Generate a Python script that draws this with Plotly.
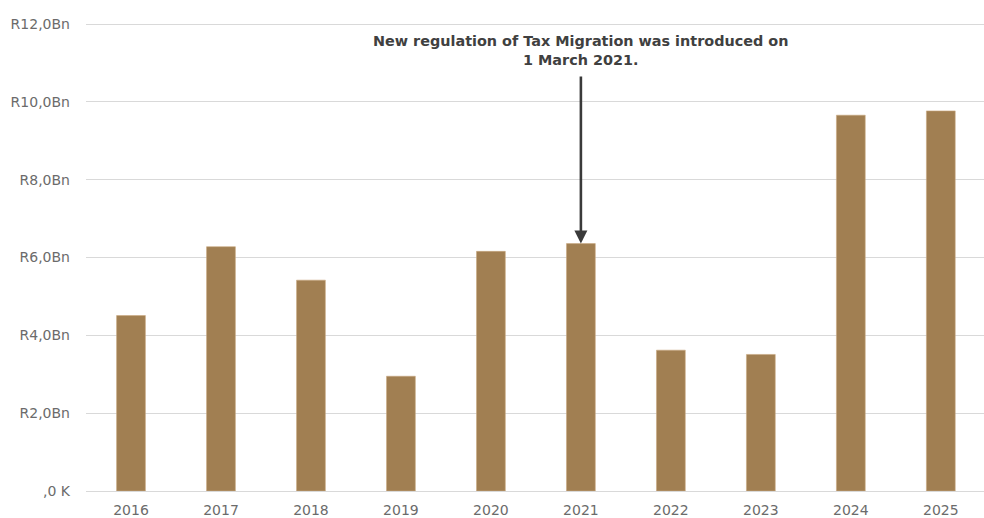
import plotly.graph_objects as go

# Annual tax-migration values, in billions of rand
years = ["2016", "2017", "2018", "2019", "2020", "2021", "2022", "2023", "2024", "2025"]
values_bn = [4.51, 6.28, 5.42, 2.95, 6.16, 6.36, 3.62, 3.51, 9.66, 9.77]

# Y-axis tick positions and their labels
y_ticks = [0, 2, 4, 6, 8, 10, 12]
y_tick_labels = [",0 K", "R2,0Bn", "R4,0Bn", "R6,0Bn", "R8,0Bn", "R10,0Bn", "R12,0Bn"]

note_year = "2021"
note_text = "<b>New regulation of Tax Migration was introduced on<br>1 March 2021.</b>"

bar_color = "#A17F52"
grid_color = "#D9D9D9"
label_color = "#6B6B6B"
font_family = "'DejaVu Sans', sans-serif"

fig = go.Figure(
    go.Bar(
        x=years,
        y=values_bn,
        marker=dict(color=bar_color, line=dict(color="#C9A77F", width=0.6)),
        width=0.32,
    )
)

note_idx = years.index(note_year)
note_value = values_bn[note_idx]

# Arrow pointing down onto the 2021 bar
fig.add_annotation(
    x=note_idx, y=note_value,
    ax=note_idx, ay=10.9,
    xref="x", yref="y", axref="x", ayref="y",
    text=" ", showarrow=True,
    arrowhead=2, arrowsize=1, arrowwidth=2.6, arrowcolor="#3A3A3A",
)

# Caption above the arrow
fig.add_annotation(
    x=note_idx, y=10.82, xref="x", yref="y",
    text=note_text, showarrow=False,
    xanchor="center", yanchor="bottom",
    font=dict(family=font_family, size=14.4, color="#404040"),
    align="center",
)

fig.update_layout(
    width=984, height=518,
    margin=dict(l=86, r=0, t=23, b=27),
    paper_bgcolor="white", plot_bgcolor="white",
    showlegend=False,
    font=dict(family=font_family, color=label_color, size=14),
)

fig.update_xaxes(
    type="category",
    range=[-0.5, 9.48],
    showgrid=False,
    showline=True, linecolor=grid_color, linewidth=1,
    ticks="", tickfont=dict(size=14, color=label_color),
    ticklabelstandoff=6,
)

fig.update_yaxes(
    range=[0, 12.03],
    tickvals=y_ticks, ticktext=y_tick_labels,
    showgrid=True, gridcolor=grid_color, gridwidth=1,
    zeroline=False, showline=False,
    ticks="", tickfont=dict(size=14, color=label_color),
    ticklabelstandoff=15,
)

fig.write_html("out.html")
